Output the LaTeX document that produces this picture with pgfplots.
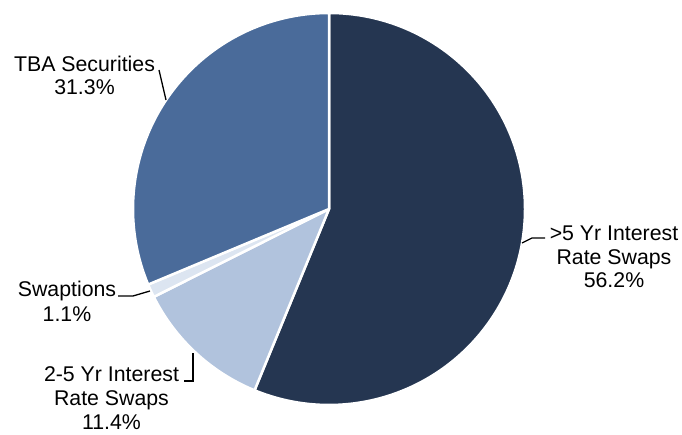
\documentclass[border=0pt]{standalone}
\usepackage{pgfplots}
\pgfplotsset{compat=1.18}
\usepackage{fontspec}
\setmainfont{Liberation Sans}
\definecolor{pieA}{HTML}{253651}
\definecolor{pieB}{HTML}{B1C3DD}
\definecolor{pieC}{HTML}{DCE5F1}
\definecolor{pieD}{HTML}{4A6B9A}
\tikzset{lbl/.style={anchor=base, inner sep=0pt, font=\fontsize{21.3}{24}\selectfont}}
% shares (percent), clockwise from 12 o'clock
\def\vA{56.2}\def\vB{11.4}\def\vC{1.1}\def\vD{31.3}
\pgfmathsetmacro\aA{90}
\pgfmathsetmacro\aB{\aA-\vA*3.6}
\pgfmathsetmacro\aC{\aB-\vB*3.6}
\pgfmathsetmacro\aD{\aC-\vC*3.6}
\pgfmathsetmacro\aE{\aD-\vD*3.6}
\begin{document}
\begin{tikzpicture}
\useasboundingbox (0,0) rectangle (682pt,435pt);
\begin{axis}[
  at={(0,0)}, anchor=south west,
  hide axis, scale only axis, disabledatascaling,
  x=1pt, y=1pt, xmin=0, xmax=682, ymin=0, ymax=435,
  clip=false,
]
\def\cx{329}\def\cy{226}\def\R{196pt}
\fill[pieA, draw=white, line width=2.5pt, line join=round] (axis cs:\cx,\cy) -- ++(\aA:\R) arc[start angle=\aA, end angle=\aB, radius=\R] -- cycle;
\fill[pieB, draw=white, line width=2.5pt, line join=round] (axis cs:\cx,\cy) -- ++(\aB:\R) arc[start angle=\aB, end angle=\aC, radius=\R] -- cycle;
\fill[pieC, draw=white, line width=2.5pt, line join=round] (axis cs:\cx,\cy) -- ++(\aC:\R) arc[start angle=\aC, end angle=\aD, radius=\R] -- cycle;
\fill[pieD, draw=white, line width=2.5pt, line join=round] (axis cs:\cx,\cy) -- ++(\aD:\R) arc[start angle=\aD, end angle=\aE, radius=\R] -- cycle;
% leader lines
\draw[black, line width=1.3pt] (axis cs:159,365) -- (axis cs:166,335);
\draw[black, line width=1.3pt] (axis cs:118,139) -- (axis cs:133,139) -- (axis cs:150,144);
\draw[black, line width=1.3pt] (axis cs:184,54) -- (axis cs:193,54) -- (axis cs:193,82);
\draw[black, line width=1.3pt] (axis cs:522,192) -- (axis cs:532,197) -- (axis cs:545,197);
% labels
\node[lbl] at (axis cs:84.5,363) {TBA Securities};
\node[lbl] at (axis cs:84.5,340) {31.3\%};
\node[lbl] at (axis cs:67,138) {Swaptions};
\node[lbl] at (axis cs:67,113) {1.1\%};
\node[lbl] at (axis cs:111.5,53) {2-5 Yr Interest};
\node[lbl] at (axis cs:111.5,29) {Rate Swaps};
\node[lbl] at (axis cs:111.5,5) {11.4\%};
\node[lbl] at (axis cs:614,194) {>5 Yr Interest};
\node[lbl] at (axis cs:614,170) {Rate Swaps};
\node[lbl] at (axis cs:614,147) {56.2\%};
\end{axis}
\end{tikzpicture}
\end{document}
